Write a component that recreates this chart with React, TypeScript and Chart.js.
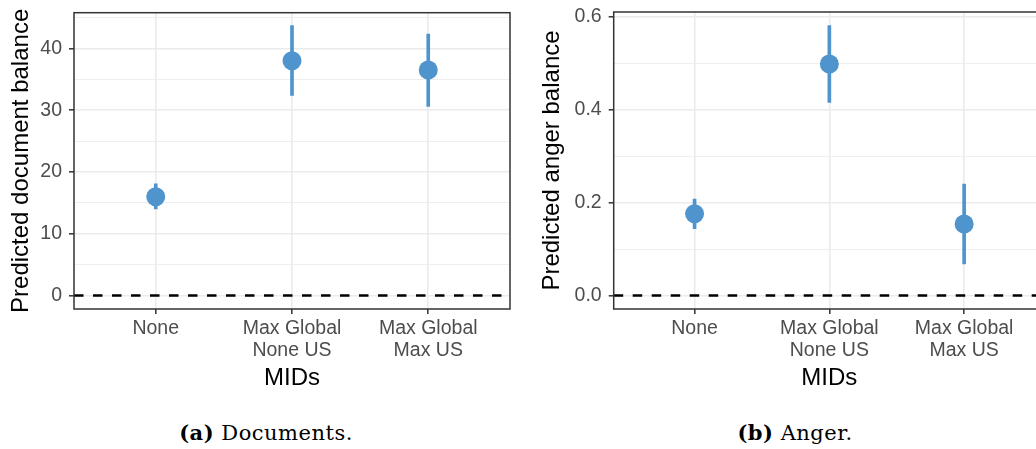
import React, { useEffect, useRef } from "react";
import { Chart, registerables } from "chart.js";

Chart.register(...registerables);

// ---------- data ----------
const categories: string[][] = [["None"], ["Max Global", "None US"], ["Max Global", "Max US"]];
const categoryPositions = [1, 2, 3];

const docEstimates = [16.0, 38.0, 36.5];
const docLower = [14.0, 32.4, 30.6];
const docUpper = [18.1, 43.7, 42.3];
const docMajorTicks = [0, 10, 20, 30, 40];
const docMinorTicks = [5, 15, 25, 35, 45];

const angerEstimates = [0.176, 0.499, 0.154];
const angerLower = [0.144, 0.416, 0.068];
const angerUpper = [0.208, 0.582, 0.24];
const angerMajorTicks = [0, 0.2, 0.4, 0.6];
const angerMinorTicks = [0.1, 0.3, 0.5];
const angerTickLabels = ["0.0", "0.2", "0.4", "0.6"];

const referenceValue = 0;

// ---------- styling ----------
const POINT_COLOR = "#4F94CD";
const GRID = "#EBEBEB";
const BORDER = "#333333";
const TICK_TEXT = "#4D4D4D";
const SANS = "'Liberation Sans', Arial, Helvetica, sans-serif";

type PanelProps = {
  estimates: number[];
  lower: number[];
  upper: number[];
  majorTicks: number[];
  minorTicks: number[];
  tickLabel: (v: number) => string;
  yTitle: string;
  yMin: number;
  yMax: number;
  width: number;
  height: number;
  axisWidth: number;
  padTop: number;
  padRight: number;
  yTitlePad: number;
};

const panelPlugin = {
  id: "panelExtras",
  beforeDatasetsDraw(chart: any) {
    const { ctx, chartArea, scales } = chart;
    const y = scales.y.getPixelForValue(referenceValue);
    ctx.save();
    ctx.strokeStyle = "#000000";
    ctx.lineWidth = 2.5;
    ctx.setLineDash([9.5, 9.5]);
    ctx.beginPath();
    ctx.moveTo(chartArea.left, y);
    ctx.lineTo(chartArea.right, y);
    ctx.stroke();
    ctx.restore();
  },
  afterDraw(chart: any) {
    const { ctx, chartArea } = chart;
    ctx.save();
    ctx.strokeStyle = BORDER;
    ctx.lineWidth = 1.5;
    ctx.strokeRect(chartArea.left, chartArea.top, chartArea.right - chartArea.left, chartArea.bottom - chartArea.top);
    ctx.restore();
  },
};

function Panel(p: PanelProps) {
  const ref = useRef<HTMLCanvasElement | null>(null);
  useEffect(() => {
    if (!ref.current) return;
    const allTicks = [...p.majorTicks, ...p.minorTicks].sort((a, b) => a - b);
    const isMajor = (v: number) => p.majorTicks.includes(v);
    const chart = new Chart(ref.current, {
      type: "scatter",
      data: {
        datasets: [
          {
            type: "scatter",
            data: categoryPositions.map((x, i) => ({ x, y: p.estimates[i] })),
            backgroundColor: POINT_COLOR,
            borderWidth: 0,
            pointRadius: 9.5,
            pointHoverRadius: 9.5,
            order: 0,
          } as any,
          {
            type: "bar",
            data: categoryPositions.map((x, i) => ({ x, y: [p.lower[i], p.upper[i]] })),
            backgroundColor: POINT_COLOR,
            borderWidth: 0,
            barThickness: 3,
            grouped: false,
            order: 1,
          } as any,
        ],
      },
      options: {
        responsive: false,
        animation: false,
        devicePixelRatio: 1,
        layout: { padding: { top: p.padTop, right: p.padRight, left: 0, bottom: 0 } },
        plugins: { legend: { display: false }, tooltip: { enabled: false } },
        scales: {
          x: {
            type: "linear",
            min: 0.4,
            max: 3.6,
            offset: false,
            afterBuildTicks: (scale: any) => {
              scale.ticks = categoryPositions.map((v) => ({ value: v }));
            },
            afterFit: (scale: any) => {
              scale.height = p.height - 309;
              scale.paddingLeft = 0;
              scale.paddingRight = 0;
            },
            ticks: {
              autoSkip: false,
              maxRotation: 0,
              minRotation: 0,
              padding: 4,
              color: TICK_TEXT,
              font: { family: SANS, size: 19.5, lineHeight: 1.13 },
              callback: (v: any) => categories[categoryPositions.indexOf(Number(v))] ?? "",
            },
            grid: {
              offset: false,
              color: GRID,
              lineWidth: 1.6,
              drawTicks: true,
              tickLength: 5,
              tickColor: BORDER,
              tickWidth: 1.5,
            },
            border: { display: false },
            title: {
              display: true,
              text: "MIDs",
              color: "#000000",
              font: { family: SANS, size: 24, lineHeight: 1.2 },
              padding: { top: 0, bottom: 7 },
            },
          },
          y: {
            type: "linear",
            min: p.yMin,
            max: p.yMax,
            afterBuildTicks: (scale: any) => {
              scale.ticks = allTicks.map((v) => ({ value: v }));
            },
            afterFit: (scale: any) => {
              scale.width = p.axisWidth;
              scale.paddingTop = 0;
              scale.paddingBottom = 0;
            },
            ticks: {
              autoSkip: false,
              padding: 7,
              color: TICK_TEXT,
              font: { family: SANS, size: 19.5 },
              callback: (v: any) => (isMajor(Number(v)) ? p.tickLabel(Number(v)) : ""),
            },
            grid: {
              color: GRID,
              lineWidth: (ctx: any) => (isMajor(ctx.tick?.value) ? 1.6 : 0.8),
              drawTicks: true,
              tickLength: 5,
              tickColor: (ctx: any) => (isMajor(ctx.tick?.value) ? BORDER : "rgba(0,0,0,0)"),
              tickWidth: 1.5,
            },
            border: { display: false },
            title: {
              display: true,
              text: p.yTitle,
              color: "#000000",
              font: { family: SANS, size: 24, lineHeight: 1.2 },
              padding: { top: p.yTitlePad, bottom: 0 },
            },
          },
        },
      },
      plugins: [panelPlugin],
    } as any);
    return () => chart.destroy();
  }, []);
  return <canvas ref={ref} width={p.width} height={p.height} style={{ display: "block" }} />;
}

const captionStyle: React.CSSProperties = {
  position: "absolute",
  top: 420,
  fontFamily: "'DejaVu Serif', 'Liberation Serif', serif",
  fontSize: 21,
  letterSpacing: 0.5,
  lineHeight: "26px",
  color: "#000",
  whiteSpace: "nowrap",
  transform: "translateX(-50%)",
};

export default function App() {
  return (
    <div
      style={{
        position: "fixed",
        left: 0,
        top: 0,
        width: 1036,
        height: 449,
        overflow: "hidden",
        background: "#ffffff",
      }}
    >
      <div style={{ position: "absolute", left: 0, top: 0 }}>
        <Panel
          estimates={docEstimates}
          lower={docLower}
          upper={docUpper}
          majorTicks={docMajorTicks}
          minorTicks={docMinorTicks}
          tickLabel={(v) => String(v)}
          yTitle="Predicted document balance"
          yMin={-2.18}
          yMax={45.78}
          width={520}
          height={400}
          axisWidth={74}
          padTop={12.7}
          padRight={10}
          yTitlePad={7.3}
        />
      </div>
      <div style={{ position: "absolute", left: 520, top: 0 }}>
        <Panel
          estimates={angerEstimates}
          lower={angerLower}
          upper={angerUpper}
          majorTicks={angerMajorTicks}
          minorTicks={angerMinorTicks}
          tickLabel={(v) => angerTickLabels[angerMajorTicks.indexOf(v)] ?? ""}
          yTitle="Predicted anger balance"
          yMin={-0.0291}
          yMax={0.611}
          width={540}
          height={400}
          axisWidth={93.7}
          padTop={12}
          padRight={15}
          yTitlePad={17.6}
        />
      </div>
      <div style={{ ...captionStyle, left: 266 }}>
        <b>(a)</b> Documents.
      </div>
      <div style={{ ...captionStyle, left: 795 }}>
        <b>(b)</b> Anger.
      </div>
    </div>
  );
}
